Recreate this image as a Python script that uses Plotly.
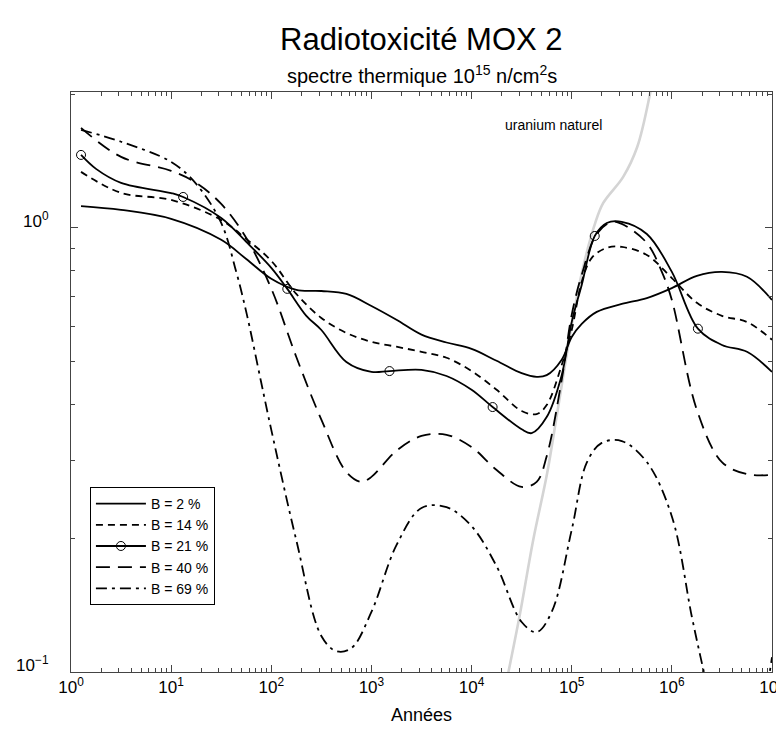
import plotly.graph_objects as go

# ---- data ----
b2_years = [1.259, 3.162, 10, 31.62, 56.23, 100, 177.8, 316.2, 562.3, 1000, 1778, 3162, 5623,
            10000, 17780, 31620, 44670, 56230, 79430, 100000, 125900, 177800, 316200, 562300,
            1e6, 1778000, 3162000, 5623000, 1e7]
b2_vals = [1.12, 1.098, 1.048, 0.94, 0.851, 0.768, 0.725, 0.721, 0.71, 0.667, 0.621, 0.575, 0.552,
           0.534, 0.502, 0.471, 0.462, 0.466, 0.505, 0.568, 0.608, 0.647, 0.674, 0.695,
           0.732, 0.78, 0.796, 0.776, 0.688]

b14_years = [1.259, 3.162, 10, 31.62, 56.23, 100, 177.8, 316.2, 562.3, 1000, 1778, 3162, 5623,
             10000, 17780, 31620, 44670, 56230, 79430, 100000, 125900, 158500, 223900, 316200,
             562300, 1e6, 1778000, 3162000, 5623000, 1e7]
b14_vals = [1.337, 1.199, 1.156, 1.042, 0.944, 0.843, 0.71, 0.627, 0.58, 0.554, 0.54, 0.526, 0.51,
            0.476, 0.432, 0.387, 0.381, 0.399, 0.491, 0.589, 0.756, 0.856, 0.902, 0.906,
            0.869, 0.771, 0.678, 0.634, 0.614, 0.56]

b21_years = [1.259, 1.778, 3.162, 10, 13.18, 31.62, 56.23, 100, 144.5, 223.9, 316.2, 562.3, 1000,
             1514, 3162, 5623, 10000, 16220, 31620, 39810, 56230, 79430, 100000, 125900, 169800,
             223900, 316200, 562300, 1e6, 1820000, 3162000, 5623000, 1e7]
b21_vals = [1.46, 1.358, 1.263, 1.198, 1.174, 1.053, 0.93, 0.813, 0.729, 0.634, 0.589, 0.499, 0.474,
            0.476, 0.479, 0.464, 0.432, 0.395, 0.352, 0.345, 0.375, 0.466, 0.614, 0.744, 0.959,
            1.026, 1.032, 0.969, 0.796, 0.593, 0.545, 0.526, 0.474]
b21_marker_idx = [0, 4, 8, 13, 17, 24, 29]

b40_years = [1.259, 3.162, 10, 17.78, 31.62, 56.23, 100, 177.8, 316.2, 562.3, 794.3, 1000, 1778,
             3162, 5623, 10000, 17780, 31620, 44670, 56230, 79430, 100000, 125900, 177800,
             251200, 316200, 562300, 794300, 1e6, 1778000, 3162000, 5623000, 1e7]
b40_vals = [1.68, 1.445, 1.344, 1.263, 1.132, 0.949, 0.73, 0.512, 0.37, 0.282, 0.268, 0.275, 0.315,
            0.34, 0.342, 0.321, 0.285, 0.261, 0.268, 0.306, 0.455, 0.637, 0.784, 0.969,
            1.032, 1.021, 0.925, 0.796, 0.688, 0.389, 0.297, 0.279, 0.278]

b69_years = [1.259, 3.162, 10, 17.78, 31.62, 44.67, 56.23, 79.43, 100, 177.8, 316.2, 446.7, 631,
             1000, 1778, 3162, 5623, 10000, 17780, 31620, 44670, 63100, 100000, 141300, 199500,
             316200, 562300, 1e6, 1585000, 2089000, 2818000, 3981000, 7079000, 1e7]
b69_vals = [1.663, 1.563, 1.408, 1.256, 1.026, 0.796, 0.647, 0.448, 0.351, 0.198, 0.1205, 0.1114,
            0.1132, 0.1365, 0.193, 0.234, 0.235, 0.213, 0.173, 0.1296, 0.123, 0.1365, 0.209,
            0.296, 0.328, 0.331, 0.297, 0.224, 0.133, 0.1, 0.075, 0.06, 0.075, 0.108]

u_years = [23230, 30550, 41210, 56890, 71610, 103500, 130300, 171800, 206500, 326600, 450800,
           608100, 700000]
u_vals = [0.0995, 0.1358, 0.198, 0.2805, 0.383, 0.631, 0.817, 1.026, 1.138, 1.303, 1.521,
          2.014, 2.4]

x_major = [1, 10, 100, 1000, 1e4, 1e5, 1e6, 1e7]
x_major_text = ["10<sup>%d</sup>" % i for i in range(8)]
y_major = [0.1, 1]
y_major_text = ["10<sup>\u22121</sup>", "10<sup>0</sup>"]
x_minor = [m * 10 ** k for k in range(7) for m in range(2, 10)]
y_minor = [m / 10 for m in range(2, 10)] + [2]

FONT = "Liberation Sans, Arial, sans-serif"
LW = 1.8

fig = go.Figure()

fig.add_trace(go.Scatter(x=u_years, y=u_vals, mode="lines", showlegend=False,
                         line=dict(color="#d4d4d4", width=2.6, shape="spline"),
                         hoverinfo="skip"))

fig.add_trace(go.Scatter(x=b2_years, y=b2_vals, mode="lines", name="B = 2 %",
                         line=dict(color="black", width=LW, shape="spline")))
fig.add_trace(go.Scatter(x=b14_years, y=b14_vals, mode="lines", name="B = 14 %",
                         line=dict(color="black", width=LW, dash="7px,5px", shape="spline")))
# B = 21 % : line + legend entry + markers
fig.add_trace(go.Scatter(x=b21_years, y=b21_vals, mode="lines", showlegend=False,
                         line=dict(color="black", width=LW, shape="spline")))
fig.add_trace(go.Scatter(x=[b21_years[i] for i in b21_marker_idx],
                         y=[b21_vals[i] for i in b21_marker_idx],
                         mode="markers", showlegend=False,
                         marker=dict(symbol="circle-open", size=9, color="black",
                                     line=dict(width=1))))
fig.add_trace(go.Scatter(x=[None], y=[None], mode="lines+markers", name="B = 21 %",
                         line=dict(color="black", width=LW),
                         marker=dict(symbol="circle-open", size=9, color="black",
                                     line=dict(width=1))))
fig.add_trace(go.Scatter(x=b40_years, y=b40_vals, mode="lines", name="B = 40 %",
                         line=dict(color="black", width=LW, dash="14px,8px", shape="spline")))
fig.add_trace(go.Scatter(x=b69_years, y=b69_vals, mode="lines", name="B = 69 %",
                         line=dict(color="black", width=LW, dash="11px,5px,3px,5px",
                                   shape="spline")))

axis_common = dict(
    type="log", showgrid=False, zeroline=False, showline=True, linecolor="#444", linewidth=1,
    mirror="ticks", ticks="inside", ticklen=7, tickcolor="#444", tickwidth=1,
    tickfont=dict(family=FONT, size=17, color="black"), ticklabeloverflow="allow",
    automargin=False,
)

fig.update_layout(
    width=776, height=726,
    margin=dict(l=63, r=12, t=84, b=62, autoexpand=False),
    paper_bgcolor="white", plot_bgcolor="white",
    font=dict(family=FONT, color="black"),
    xaxis=dict(**axis_common, range=[0, 7], tickmode="array", tickvals=x_major,
               ticktext=x_major_text,
               minor=dict(tickmode="array", tickvals=x_minor, ticks="inside", ticklen=4,
                          tickcolor="#444"),
               title=dict(text="Années", font=dict(family=FONT, size=18), standoff=11)),
    yaxis=dict(**axis_common, range=[-1, 0.306], tickmode="array", tickvals=y_major,
               ticktext=y_major_text, ticklabelstandoff=18, ticklabelshift=-7,
               minor=dict(tickmode="array", tickvals=y_minor, ticks="inside", ticklen=4,
                          tickcolor="#444")),
    legend=dict(x=0.027, y=0.319, xanchor="left", yanchor="top",
                bgcolor="white", bordercolor="black", borderwidth=1,
                font=dict(family=FONT, size=14), tracegroupgap=0, itemwidth=50),
    showlegend=True,
    annotations=[
        dict(text="Radiotoxicité MOX 2", xref="paper", yref="paper", x=0.5, y=1.09,
             xanchor="center", yanchor="middle", showarrow=False,
             font=dict(family=FONT, size=31)),
        dict(text="spectre thermique 10<sup>15</sup> n/cm<sup>2</sup>s", xref="paper",
             yref="paper", x=0.5, y=1.031, xanchor="center", yanchor="middle",
             showarrow=False, font=dict(family=FONT, size=20)),
        dict(text="uranium naturel", x=4.815, y=0.232, xref="x", yref="y",
             showarrow=False, xanchor="center", yanchor="middle",
             font=dict(family=FONT, size=14)),
    ],
)

fig.write_html("out.html")
